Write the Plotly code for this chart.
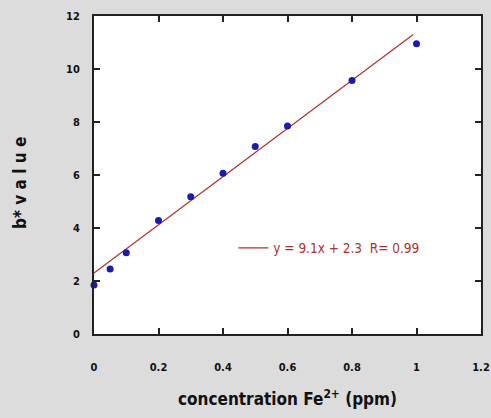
import plotly.graph_objects as go

conc = [0, 0.05, 0.1, 0.2, 0.3, 0.4, 0.5, 0.6, 0.8, 1.0]
b_value = [1.85, 2.45, 3.07, 4.28, 5.18, 6.07, 7.08, 7.85, 9.57, 10.95]
fit_x = [0, 0.99]
fit_y = [2.3, 11.3]
fit_label = "y = 9.1x + 2.3  R= 0.99"
x_ticks = [0, 0.2, 0.4, 0.6, 0.8, 1, 1.2]
y_ticks = [0, 2, 4, 6, 8, 10, 12]

font_fam = "DejaVu Sans Condensed, Liberation Sans Narrow, Arial Narrow, sans-serif"

fig = go.Figure()
fig.add_trace(go.Scatter(x=fit_x, y=fit_y, mode="lines",
                         line=dict(color="#b03030", width=1.2),
                         name=fit_label, showlegend=True))
fig.add_trace(go.Scatter(x=conc, y=b_value, mode="markers",
                         marker=dict(color="#1a1ab4", size=7),
                         showlegend=False, cliponaxis=False))

axis_common = dict(showline=True, linecolor="#222", linewidth=2, mirror="ticks",
                   ticks="inside", ticklen=6, tickwidth=1.5, tickcolor="#222",
                   showgrid=False, zeroline=False, automargin=False,
                   tickfont=dict(family=font_fam, size=11, color="#111", weight="bold"))

fig.update_layout(
    width=491, height=418,
    paper_bgcolor="#dcdcdc", plot_bgcolor="white",
    margin=dict(l=94, r=10, t=16, b=84),
    font=dict(family=font_fam),
    xaxis=dict(range=[0, 1.2], tickvals=x_ticks, ticktext=[str(v) for v in x_ticks],
               ticklabelstandoff=22,
               title=dict(text="<b>concentration Fe<sup>2+</sup> (ppm)</b>",
                          font=dict(family=font_fam, size=17, color="#111"), standoff=20),
               **axis_common),
    yaxis=dict(range=[0, 12], tickvals=y_ticks,
               ticklabelstandoff=10,
               **axis_common),
    legend=dict(x=0.36, y=0.27, xanchor="left", yanchor="middle",
                bgcolor="rgba(0,0,0,0)",
                font=dict(family=font_fam, size=13.5, color="#b03030")),
    annotations=[dict(text="<b>b* v a l u e</b>", xref="paper", yref="paper",
                      x=-74 / 387, y=0.475, xanchor="center", yanchor="middle",
                      showarrow=False, textangle=-90,
                      font=dict(family=font_fam, size=17, color="#111"))],
)

fig.write_html("out.html", config={"displayModeBar": False},
               post_script="document.body.style.margin='0';document.body.style.background='#dcdcdc';")
